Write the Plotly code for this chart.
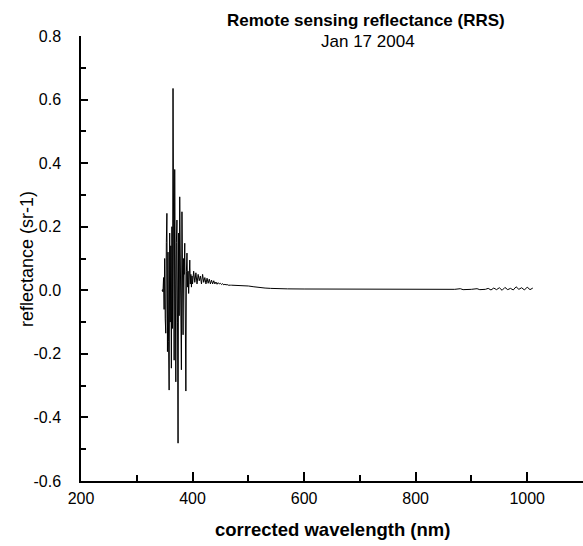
import plotly.graph_objects as go

# ---- data ----
wl_noisy = list(range(345, 401))
rrs_noisy = [0.000, 0.002, -0.005, 0.04, -0.06, 0.10, -0.09, -0.135, 0.15, 0.242,
             -0.193, 0.12, -0.16, -0.314, 0.18, -0.10, 0.14, -0.245, 0.20, -0.12,
             0.635, -0.05, -0.22, 0.38, 0.10, -0.288, 0.15, 0.221, -0.10, -0.481,
             0.18, -0.08, 0.294, 0.05, -0.12, -0.25, 0.247, 0.02, -0.14, 0.10,
             0.05, 0.148, -0.05, -0.317, 0.06, 0.117, 0.01, 0.06, -0.01, 0.05,
             0.095, 0.02, 0.05, 0.01, 0.045, 0.02]

wl_decay = list(range(402, 471, 2))
rrs_decay = [0.06, 0.025, 0.055, 0.02, 0.05, 0.03, 0.045, 0.02, 0.05, 0.025,
             0.04, 0.02, 0.038, 0.022, 0.035, 0.02, 0.032, 0.02, 0.03, 0.02,
             0.026, 0.019, 0.024, 0.02, 0.022, 0.018, 0.021, 0.017, 0.019, 0.017,
             0.018, 0.016, 0.017, 0.016, 0.016]

wl_tail = [480, 490, 500, 510, 520, 530, 540, 550, 570, 600, 650, 700, 750, 800,
           850, 870, 880, 885, 900, 910, 915, 925, 930, 935, 940, 945, 950, 955,
           960, 965, 970, 975, 980, 985, 990, 995, 1000, 1005, 1010]
rrs_tail = [0.0155, 0.0145, 0.0135, 0.011, 0.0085, 0.007, 0.006, 0.005, 0.0045,
            0.004, 0.0035, 0.0035, 0.003, 0.003, 0.003, 0.003, 0.005, 0.002,
            0.003, 0.005, 0.002, 0.003, 0.006, 0.001, 0.007, 0.002, 0.008, 0.0,
            0.009, 0.002, 0.006, 0.001, 0.011, 0.003, 0.008, 0.001, 0.010, 0.002,
            0.007]

x_tickvals = [200, 400, 600, 800, 1000]
x_ticktext = ["200", "400", "600", "800", "1000"]
y_tickvals = [-0.6, -0.4, -0.2, 0.0, 0.2, 0.4, 0.6, 0.8]
y_ticktext = ["-0.6", "-0.4", "-0.2", "0.0", "0.2", "0.4", "0.6", "0.8"]

wavelength = wl_noisy + wl_decay + wl_tail
reflectance = rrs_noisy + rrs_decay + rrs_tail

FONT = "Liberation Sans, Arial, sans-serif"

fig = go.Figure()
fig.add_trace(go.Scatter(x=wavelength, y=reflectance, mode="lines",
                         line=dict(color="black", width=1), showlegend=False))

fig.update_layout(
    width=583, height=546,
    margin=dict(l=81, r=0, t=36, b=65),
    paper_bgcolor="white", plot_bgcolor="white",
    font=dict(family=FONT, color="black", size=16),
    xaxis=dict(range=[200, 1100], showline=True, linecolor="black", linewidth=1.5,
               showgrid=False, zeroline=False, ticks="inside", ticklen=9,
               tickwidth=1.5, tickcolor="black", tickmode="array",
               tickvals=x_tickvals, ticktext=x_ticktext,
               tickfont=dict(size=16, family=FONT), ticklabelstandoff=2,
               minor=dict(ticks="inside", ticklen=6, tickwidth=1.5, dtick=100,
                          tick0=0, tickcolor="black", showgrid=False)),
    yaxis=dict(range=[-0.6, 0.8], showline=True, linecolor="black", linewidth=1.5,
               showgrid=False, zeroline=False, ticks="inside", ticklen=7,
               tickwidth=1.5, tickcolor="black", tickmode="array",
               tickvals=y_tickvals, ticktext=y_ticktext,
               tickfont=dict(size=16, family=FONT), ticklabelstandoff=15,
               minor=dict(ticks="inside", ticklen=5, tickwidth=1.5, dtick=0.1,
                          tick0=0, tickcolor="black", showgrid=False)),
    annotations=[
        dict(text="<b>Remote sensing reflectance (RRS)</b>", xref="paper", yref="paper",
             x=(366 - 81) / 502, y=(481 - 31) / 445, showarrow=False,
             font=dict(size=17, family=FONT), xanchor="center", yanchor="bottom",
             borderpad=0),
        dict(text="Jan 17 2004", xref="paper", yref="paper",
             x=(368 - 81) / 502, y=(481 - 31) / 445, showarrow=False,
             font=dict(size=17, family=FONT), xanchor="center", yanchor="top",
             borderpad=0),
        dict(text="<b>corrected wavelength (nm)</b>", xref="paper", yref="paper",
             x=(332 - 81) / 502, y=(481 - 529) / 445, showarrow=False,
             font=dict(size=18.5, family=FONT), xanchor="center", yanchor="middle"),
        dict(text="reflectance (sr-1)", xref="paper", yref="paper",
             x=(27 - 81) / 502, y=(481 - 259) / 445, showarrow=False, textangle=-90,
             font=dict(size=18, family=FONT), xanchor="center", yanchor="middle"),
    ],
)

fig.write_html("out.html")
